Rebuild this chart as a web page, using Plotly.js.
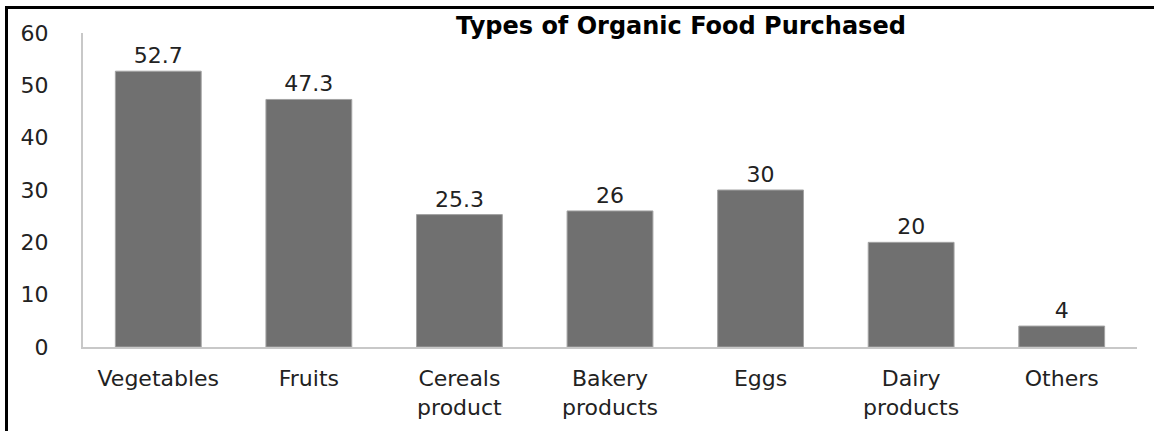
<!DOCTYPE html>
<html>
<head>
<meta charset="utf-8">
<script src="https://cdn.plot.ly/plotly-3.0.1.min.js"></script>
<style>
html,body{margin:0;padding:0;background:#fff;overflow:hidden;}
#wrap{position:relative;width:1154px;height:431px;}
#chart{position:absolute;left:0;top:0;width:1154px;height:431px;}
#frame{position:absolute;left:5px;top:6px;width:1160px;height:440px;border-left:3px solid #000;border-top:3px solid #000;pointer-events:none;}
</style>
</head>
<body>
<div id="wrap">
<div id="chart"></div>
<div id="frame"></div>
</div>
<script>
const categories = ["Vegetables", "Fruits", "Cereals<br>product", "Bakery<br>products", "Eggs", "Dairy<br>products", "Others"];
const values = [52.7, 47.3, 25.3, 26, 30, 20, 4];
const valueLabels = ["52.7", "47.3", "25.3", "26", "30", "20", "4"];
const yTicks = [0, 10, 20, 30, 40, 50, 60];
const chartTitle = "Types of Organic Food Purchased";

const FONT = "DejaVu Sans, Open Sans, sans-serif";
const W = 1154, H = 431;
const L = 83, R = 17, T = 33, B = 84;
const pw = W - L - R;
function px(x){ return (x - L) / pw; }

const trace = {
  type: "bar",
  x: categories,
  y: values,
  text: valueLabels,
  textposition: "outside",
  textfont: {family: FONT, size: 22, color: "#222"},
  cliponaxis: false,
  marker: {color: "#707070", line: {color: "#a3a3a3", width: 1}},
  hoverinfo: "none"
};

const layout = {
  width: W, height: H,
  margin: {l: L, r: R, t: T, b: B, pad: 0},
  paper_bgcolor: "rgba(0,0,0,0)",
  plot_bgcolor: "#fff",
  showlegend: false,
  bargap: 0.43,
  font: {family: FONT, color: "#222"},
  title: {
    text: "<b>" + chartTitle + "</b>",
    font: {family: FONT, size: 24, color: "#000"},
    x: px(681), xref: "paper", xanchor: "center",
    y: 1 - 26 / H, yref: "container", yanchor: "middle"
  },
  xaxis: {
    type: "category",
    showline: true, linecolor: "#c8c8c8", linewidth: 2,
    showgrid: false, zeroline: false,
    ticks: "",
    tickfont: {family: FONT, size: 22, color: "#222"},
    ticklabelstandoff: 11,
    fixedrange: true
  },
  yaxis: {
    range: [0, 60],
    tickvals: yTicks,
    ticktext: yTicks.map(String),
    showline: true, linecolor: "#c8c8c8", linewidth: 2,
    showgrid: false, zeroline: false,
    ticks: "",
    tickfont: {family: FONT, size: 22, color: "#222"},
    ticklabelstandoff: 28,
    fixedrange: true
  }
};

Plotly.newPlot("chart", [trace], layout, {displayModeBar: false, staticPlot: true});
</script>
</body>
</html>
